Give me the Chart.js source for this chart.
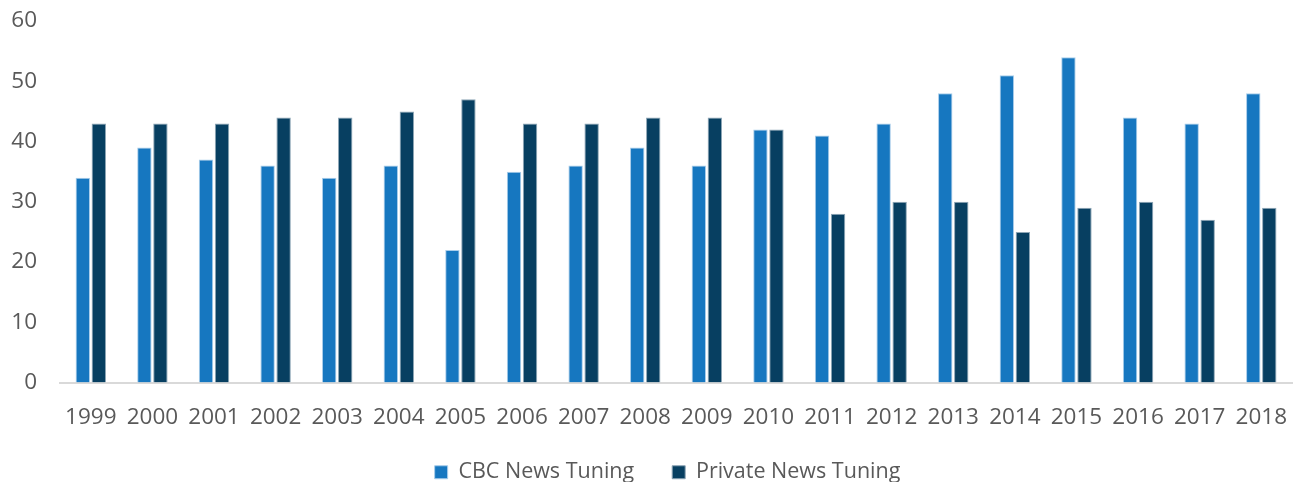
<!DOCTYPE html>
<html lang="en">

<head>
  <meta charset="UTF-8" />
  <title>CBC vs Private News Tuning</title>
  <script src="https://cdn.jsdelivr.net/npm/chart.js"></script>
  <style>
    html,
    body {
      margin: 0;
      padding: 0;
      background: #fff;
      overflow: hidden;
    }

    .chart-wrapper {
      position: absolute;
      left: 0;
      top: 0;
      width: 1301px;
      height: 515px;
    }
  </style>
</head>

<body>
  <div class="chart-wrapper">
    <canvas id="chart"></canvas>
  </div>

  <script>
    const years = ["1999", "2000", "2001", "2002", "2003", "2004", "2005", "2006", "2007", "2008",
      "2009", "2010", "2011", "2012", "2013", "2014", "2015", "2016", "2017", "2018"];
    const cbcTuning = [34, 39, 37, 36, 34, 36, 22, 35, 36, 39, 36, 42, 41, 43, 48, 51, 54, 44, 43, 48];
    const privateTuning = [43, 43, 43, 44, 44, 45, 47, 43, 43, 44, 44, 42, 28, 30, 30, 25, 29, 30, 27, 29];

    const tickFont = { family: "'Open Sans', sans-serif", size: 22.5 };
    const legendFont = { family: "'Open Sans', sans-serif", size: 21.5 };
    const textColor = "#595959";

    // wide gap between legend items, but keep the row tucked under the axis labels
    const legendNudge = {
      id: "legendNudge",
      afterLayout(chart) {
        const legend = chart.legend;
        legend.top -= 22;
        legend.bottom -= 22;
        legend.left += 17;
        legend.right += 17;
      },
    };

    new Chart(document.getElementById("chart"), {
      type: "bar",
      data: {
        labels: years,
        datasets: [
          {
            label: "CBC News Tuning",
            data: cbcTuning,
            backgroundColor: "#1677c0",
            borderColor: "#a9cdea",
            borderWidth: 1,
            categoryPercentage: 0.52,
            barPercentage: 0.9,
          },
          {
            label: "Private News Tuning",
            data: privateTuning,
            backgroundColor: "#073f61",
            borderColor: "#8ea6b6",
            borderWidth: 1,
            categoryPercentage: 0.52,
            barPercentage: 0.9,
          },
        ],
      },
      plugins: [legendNudge],
      options: {
        animation: false,
        responsive: true,
        maintainAspectRatio: false,
        layout: { padding: { top: 21, right: 0, left: 0, bottom: 0 } },
        plugins: {
          tooltip: { enabled: false },
          legend: {
            position: "bottom",
            labels: {
              font: legendFont,
              color: textColor,
              boxWidth: 13,
              boxHeight: 13,
              padding: 38,
            },
          },
        },
        scales: {
          x: {
            grid: { display: false },
            border: { display: true, color: "#d9d9d9", width: 2 },
            ticks: { font: tickFont, color: textColor, padding: 14, maxRotation: 0 },
          },
          y: {
            min: 0,
            max: 60,
            grid: { display: false, drawTicks: false },
            border: { display: false },
            ticks: { stepSize: 10, font: tickFont, color: textColor, padding: 23 },
            // fixed gutter for the value labels, top edge set by layout padding only
            afterFit: (scale) => {
              scale.width = 60;
              scale.paddingTop = 0;
              scale.paddingBottom = 0;
            },
          },
        },
      },
    });
  </script>
</body>

</html>
